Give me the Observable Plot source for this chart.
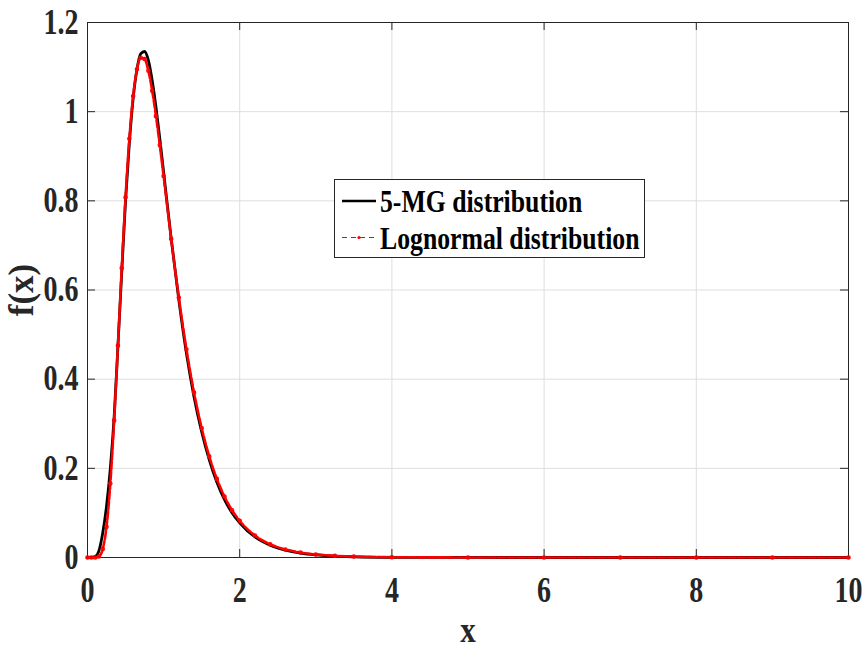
<!DOCTYPE html>
<html><head><meta charset="utf-8">
<script src="https://cdn.jsdelivr.net/npm/d3@7"></script>
<script src="https://cdn.jsdelivr.net/npm/@observablehq/plot@0.6"></script>
<style>
body{margin:0;background:#fff;}
#wrap{position:relative;width:864px;height:646px;overflow:hidden;}
#legend{position:absolute;left:334px;top:179px;width:309px;height:77px;border:1px solid #262626;background:#fff;font-family:"Liberation Serif";font-weight:bold;font-size:31px;color:#000;}
.row{position:absolute;left:0;width:100%;height:37px;white-space:nowrap;}
.row svg{position:absolute;left:6px;top:0;}
.row span{position:absolute;left:45px;line-height:31px;display:inline-block;transform:scaleX(0.83);transform-origin:left center;}
</style></head>
<body>
<div id="wrap">
  <div id="chart"></div>
  <div id="legend">
    <div class="row" style="top:0">
      <svg width="36" height="37"><line x1="1" x2="35" y1="21" y2="21" stroke="#000" stroke-width="2.6"/></svg>
      <span style="top:6px">5-MG distribution</span>
    </div>
    <div class="row" style="top:0">
      <svg width="36" height="77" style="top:0"><line x1="1" x2="35" y1="57.5" y2="57.5" stroke="red" stroke-width="1.2" stroke-dasharray="5,4"/><circle cx="18" cy="57.5" r="1.6" fill="red"/></svg>
      <span style="top:43px">Lognormal distribution</span>
    </div>
  </div>
</div>
<script>
// x positions and values
const xs   = [0,0.05,0.1,0.15,0.2,0.25,0.3,0.35,0.4,0.45,0.5,0.55,0.6,0.65,0.7,0.75,0.8,0.85,0.9,0.95,1.0,1.1,1.2,1.3,1.4,1.5,1.6,1.7,1.8,1.9,2.0,2.2,2.4,2.6,2.8,3.0,3.25,3.5,4,5,6,7,8,9,10];
const mg   = [0,0.0002,0.002,0.015,0.055,0.115,0.2,0.315,0.475,0.64,0.80,0.93,1.03,1.095,1.13,1.135,1.115,1.07,1.01,0.94,0.865,0.715,0.578,0.458,0.36,0.282,0.219,0.169,0.13,0.10,0.078,0.046,0.0275,0.0165,0.0098,0.0058,0.003,0.0016,0.0005,0.0001,0,0,0,0,0];
const logn = [0,0,0.0001,0.0024,0.0188,0.069,0.166,0.3075,0.4755,0.649,0.808,0.939,1.035,1.095,1.121,1.118,1.092,1.047,0.99,0.925,0.8555,0.7146,0.583,0.467,0.37,0.2905,0.2268,0.1763,0.1368,0.1059,0.0823,0.0492,0.0297,0.0181,0.0111,0.0068,0.0038,0.0021,0.0007,0.0001,0,0,0,0,0];
const xTicks = [0,2,4,6,8,10];
const yTicks = [0,0.2,0.4,0.6,0.8,1,1.2];
const xLabel = "x";
const yLabel = "f(x)";

const data = xs.map((x,i)=>({x, mg: mg[i], ln: logn[i]}));
const W=864,H=646,mL=87,mR=16,mT=22,mB=89;
const pw=W-mL-mR, ph=H-mT-mB, tl=8;
const axisColor="#262626", gridColor="#dedede";

const plot = Plot.plot({
  width:W,height:H,marginLeft:mL,marginRight:mR,marginTop:mT,marginBottom:mB,
  style:{fontFamily:"Liberation Serif",fontSize:"35px",fontWeight:"bold",color:"#262626",background:"#fff",overflow:"visible"},
  x:{domain:[0,10],ticks:xTicks,label:null},
  y:{domain:[0,1.2],ticks:yTicks,label:null},
  marks:[
    Plot.gridX(xTicks,{stroke:gridColor,strokeOpacity:1}),
    Plot.gridY(yTicks,{stroke:gridColor,strokeOpacity:1}),
    Plot.tickX(xTicks,{x:d=>d,insetTop:ph-tl,stroke:axisColor}),
    Plot.tickX(xTicks,{x:d=>d,insetBottom:ph-tl,stroke:axisColor}),
    Plot.tickY(yTicks,{y:d=>d,insetRight:pw-tl,stroke:axisColor}),
    Plot.tickY(yTicks,{y:d=>d,insetLeft:pw-tl,stroke:axisColor}),
    Plot.frame({stroke:axisColor}),
    Plot.line(data,{x:"x",y:"mg",stroke:"black",strokeWidth:2.8,curve:"monotone-x"}),
    Plot.line(data,{x:"x",y:"ln",stroke:"red",strokeWidth:2.6,strokeDasharray:"8,2",curve:"monotone-x"}),
    Plot.dot(data,{x:"x",y:"ln",r:1.7,stroke:"red",strokeWidth:1.2,fill:"none"}),
    Plot.axisX(xTicks,{tickSize:0,tickPadding:20,label:null,tickFormat:d=>String(d)}),
    Plot.axisY(yTicks,{tickSize:0,tickPadding:9,label:null,tickFormat:d=>String(d)}),
    Plot.text([xLabel],{frameAnchor:"bottom",lineAnchor:"middle",textAnchor:"middle",dy:73,fontSize:36,fill:"#262626"}),
    Plot.text([yLabel],{frameAnchor:"left",lineAnchor:"middle",textAnchor:"middle",dx:-66,rotate:-90,fontSize:35,fill:"#262626"})
  ]
});
document.getElementById("chart").appendChild(plot);

// horizontally condense text like the reference's narrow bold serif
plot.querySelectorAll("text").forEach(t=>{
  const s=t.textContent;
  if(s===yLabel) return;
  const f = s===xLabel ? 0.86 : 0.8;
  const L=t.getComputedTextLength();
  if(L>0){ t.setAttribute("textLength", (L*f).toFixed(2)); t.setAttribute("lengthAdjust","spacingAndGlyphs"); }
});
</script>
</body></html>
